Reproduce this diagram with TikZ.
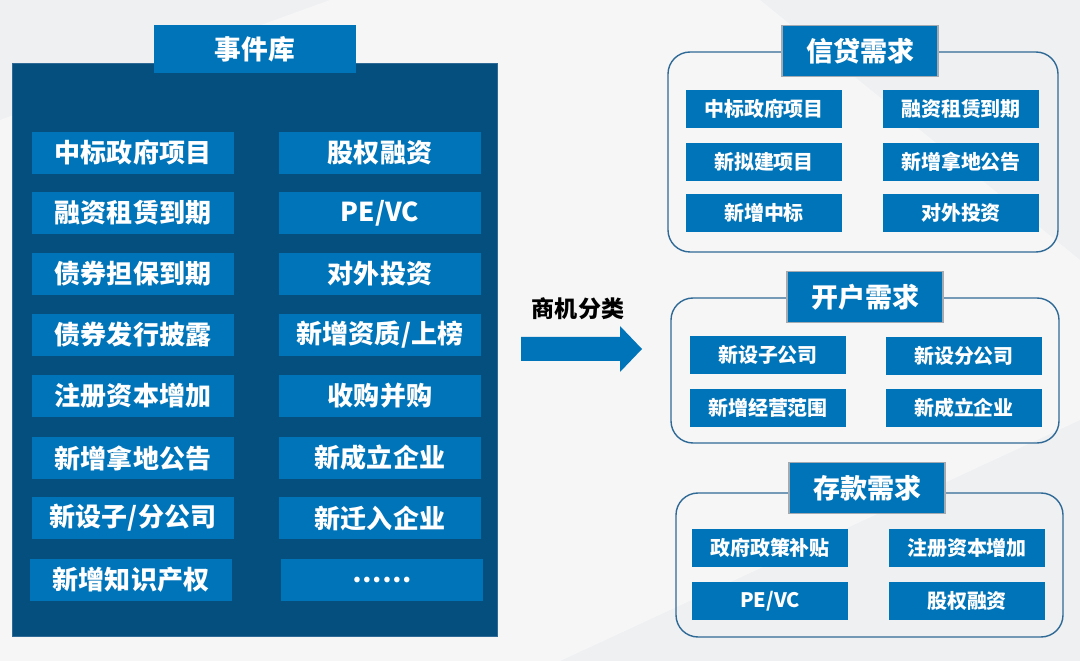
\documentclass[tikz,border=0pt]{standalone}
\usepackage{fontspec}
\newfontfamily\cjk{Noto Sans CJK SC}
\definecolor{bgray}{HTML}{EFF0F2}
\definecolor{itemblue}{HTML}{0074B9}
\definecolor{darkpanel}{HTML}{044F7E}
\definecolor{panelline}{HTML}{2F6A96}
\definecolor{titleline}{HTML}{A3AAB1}

\tikzset{
  bigitem/.style={fill=itemblue, text=white, minimum width=5.05cm, minimum height=1.05cm, inner sep=0pt, font=\cjk\bfseries\fontsize{18.5pt}{20pt}\selectfont},
  smallitem/.style={fill=itemblue, text=white, minimum width=3.9cm, minimum height=0.95cm, inner sep=0pt, font=\cjk\bfseries\fontsize{14.2pt}{16pt}\selectfont},
  bigtitle/.style={fill=itemblue, text=white, minimum width=5.05cm, minimum height=1.2cm, inner sep=0pt, font=\cjk\bfseries\fontsize{19pt}{21pt}\selectfont},
  grouptitle/.style={fill=itemblue, draw=titleline, line width=0.9pt, text=white, minimum width=3.9cm, minimum height=1.28cm, inner sep=0pt, font=\cjk\bfseries\fontsize{19.2pt}{21pt}\selectfont},
  group/.style={draw=panelline, line width=1pt, rounded corners=0.55cm}
}

\begin{document}
\begin{tikzpicture}[x=0.025cm, y=-0.025cm]
% background
\fill[bgray] (0,0) rectangle (1080,661);
\fill[white, opacity=0.45] (0,120) -- (330,0) -- (760,0) -- (1080,260) -- (1080,420) -- (560,661) -- (0,661) -- cycle;
\useasboundingbox (0,0) rectangle (1080,661);

% event library
\fill[darkpanel] (12,63) rectangle (497,636);
\draw[panelline, line width=0.6pt] (12,63) rectangle (497,636);
\node (lib)[bigtitle] at (255,49) {事件库};

\node (l1)[bigitem] at (133,153) {中标政府项目};
\node (l2)[bigitem] at (133,213) {融资租赁到期};
\node (l3)[bigitem] at (133,274) {债券担保到期};
\node (l4)[bigitem] at (133,335) {债券发行披露};
\node (l5)[bigitem] at (133,396) {注册资本增加};
\node (l6)[bigitem] at (133,458) {新增拿地公告};
\node (l7)[bigitem] at (133,518) {新设子/分公司};
\node (l8)[bigitem] at (131,580) {新增知识产权};
\node (r1)[bigitem] at (380,153) {股权融资};
\node (r2)[bigitem] at (380,213) {PE/VC};
\node (r3)[bigitem] at (380,274) {对外投资};
\node (r4)[bigitem] at (380,335) {新增资质/上榜};
\node (r5)[bigitem] at (380,396) {收购并购};
\node (r6)[bigitem] at (380,458) {新成立企业};
\node (r7)[bigitem] at (380,518) {新迁入企业};
\node (r8)[bigitem] at (382,580) {……};

% classification arrow
\node (cls)[font=\cjk\bfseries\fontsize{16.4pt}{18pt}\selectfont] at (578,309) {商机分类};
\fill[itemblue] (521,337) -- (620,337) -- (620,326) -- (642,349) -- (620,372) -- (620,361) -- (521,361) -- cycle;

% credit demand
\draw[group] (668,52) rectangle (1058,252);
\node (credit)[grouptitle] at (860,51) {信贷需求};
\node (c1)[smallitem] at (764,109) {中标政府项目};
\node (c2)[smallitem] at (961,109) {融资租赁到期};
\node (c3)[smallitem] at (764,162) {新拟建项目};
\node (c4)[smallitem] at (961,162) {新增拿地公告};
\node (c5)[smallitem] at (764,213) {新增中标};
\node (c6)[smallitem] at (961,213) {对外投资};

% account demand
\draw[group] (671,298) rectangle (1059,443);
\node (account)[grouptitle] at (865,297) {开户需求};
\node (a1)[smallitem] at (768,355) {新设子公司};
\node (a2)[smallitem] at (964,356) {新设分公司};
\node (a3)[smallitem] at (768,408) {新增经营范围};
\node (a4)[smallitem] at (964,408) {新成立企业};

% deposit demand
\draw[group] (676,493) rectangle (1063,637);
\node (deposit)[grouptitle] at (867,488) {存款需求};
\node (d1)[smallitem] at (770,548) {政府政策补贴};
\node (d2)[smallitem] at (967,548) {注册资本增加};
\node (d3)[smallitem] at (770,601) {PE/VC};
\node (d4)[smallitem] at (967,601) {股权融资};
\end{tikzpicture}
\end{document}
